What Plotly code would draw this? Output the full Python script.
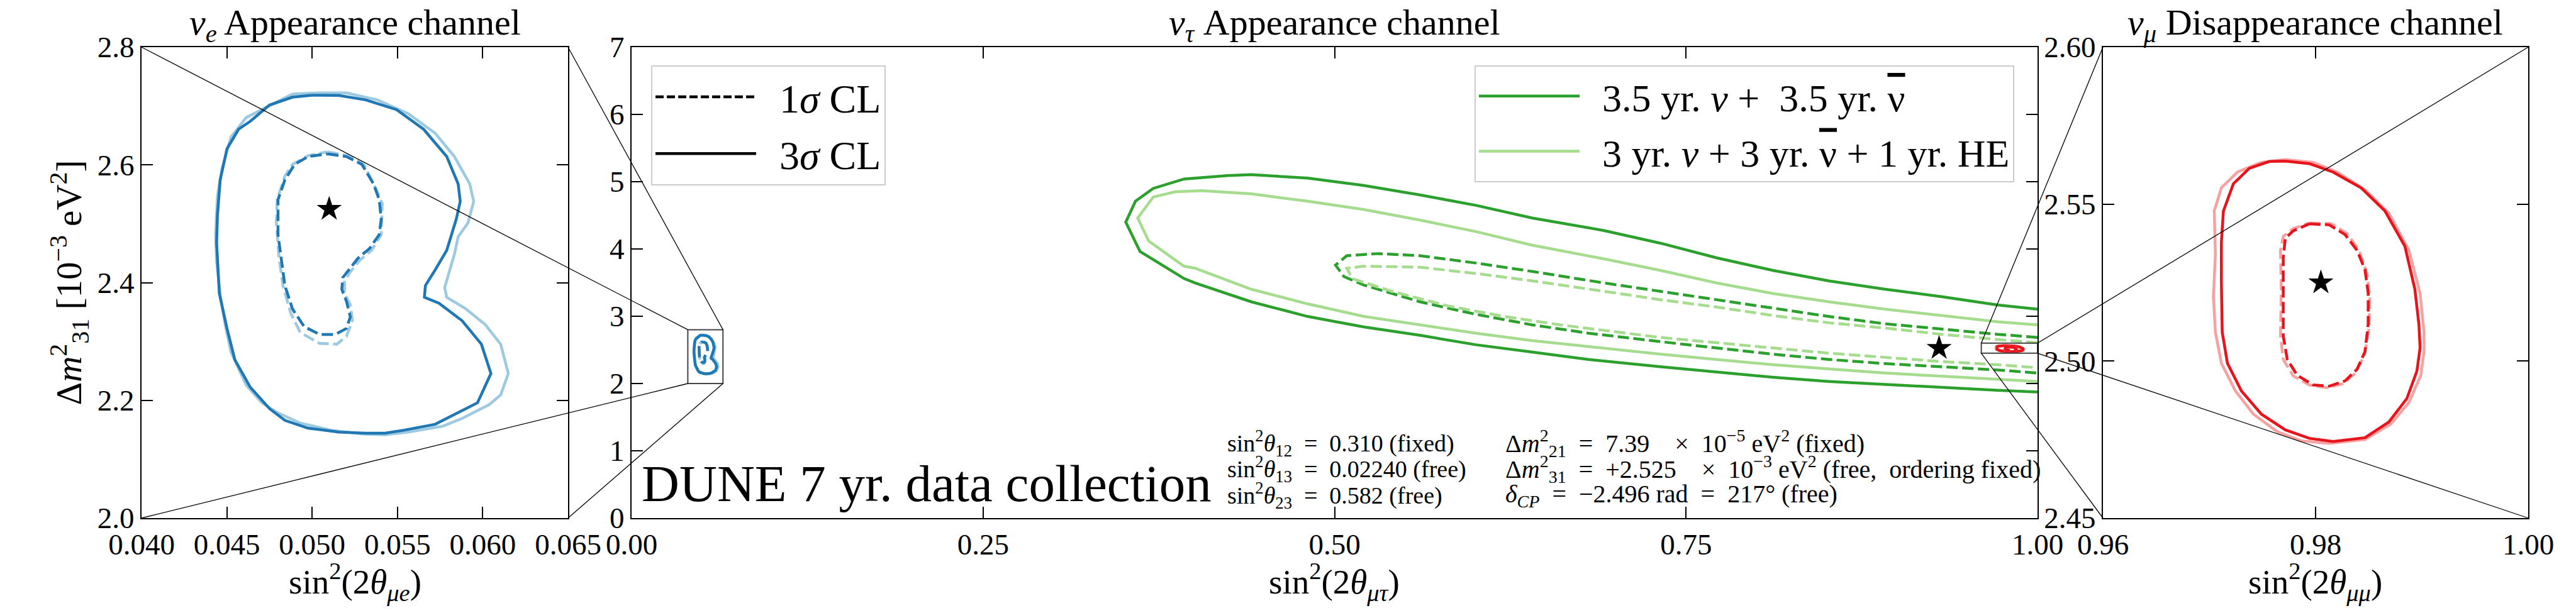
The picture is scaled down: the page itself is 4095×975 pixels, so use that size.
import plotly.graph_objects as go

# ---------------- data ----------------
# nu_e appearance (sin^2 2theta_mue, dm31^2 [1e-3 eV^2])
nue_3s_dark_x = [0.04998, 0.05156, 0.05314, 0.05495, 0.05653, 0.05789, 0.05856, 0.05868, 0.05845, 0.05789, 0.05721, 0.05664, 0.05658, 0.05743, 0.05879, 0.05992, 0.06048, 0.05969, 0.05834, 0.05721, 0.05540, 0.05427, 0.05314, 0.05156, 0.04976, 0.04840, 0.04750, 0.04637, 0.04547, 0.04501, 0.04456, 0.04440, 0.04445, 0.04461, 0.04501, 0.04569, 0.04637, 0.04750, 0.04885]
nue_3s_dark_y = [2.7183, 2.7180, 2.7104, 2.6938, 2.6606, 2.6141, 2.5676, 2.5378, 2.5079, 2.4548, 2.4216, 2.3950, 2.3751, 2.3651, 2.3353, 2.2954, 2.2456, 2.1958, 2.1759, 2.1593, 2.1494, 2.1441, 2.1441, 2.1461, 2.1527, 2.1660, 2.1859, 2.2224, 2.2689, 2.3220, 2.3817, 2.4681, 2.5145, 2.5743, 2.6274, 2.6606, 2.6739, 2.7017, 2.7150]
nue_3s_light_x = [0.04885, 0.05043, 0.05201, 0.05382, 0.05563, 0.05721, 0.05834, 0.05924, 0.05947, 0.05913, 0.05856, 0.05834, 0.05800, 0.05777, 0.05789, 0.05902, 0.06015, 0.06105, 0.06150, 0.06105, 0.06037, 0.05879, 0.05766, 0.05563, 0.05427, 0.05292, 0.05111, 0.04930, 0.04795, 0.04705, 0.04614, 0.04524, 0.04490, 0.04463, 0.04440, 0.04434, 0.04445, 0.04472, 0.04524, 0.04614, 0.04727]
nue_3s_light_y = [2.7203, 2.7223, 2.7223, 2.7104, 2.6871, 2.6539, 2.6141, 2.5676, 2.5378, 2.5012, 2.4780, 2.4481, 2.4149, 2.3917, 2.3751, 2.3552, 2.3286, 2.2954, 2.2456, 2.2091, 2.1925, 2.1693, 2.1560, 2.1461, 2.1414, 2.1428, 2.1494, 2.1613, 2.1793, 2.1959, 2.2257, 2.2822, 2.3286, 2.3751, 2.4349, 2.4813, 2.5477, 2.5942, 2.6473, 2.6805, 2.6971]
nue_1s_dark_x = [0.05089, 0.05201, 0.05292, 0.05360, 0.05393, 0.05405, 0.05393, 0.05337, 0.05269, 0.05213, 0.05179, 0.05174, 0.05201, 0.05224, 0.05201, 0.05134, 0.05043, 0.04953, 0.04885, 0.04840, 0.04818, 0.04800, 0.04800, 0.04840, 0.04897, 0.04976]
nue_1s_dark_y = [2.6188, 2.6141, 2.6008, 2.5676, 2.5411, 2.5079, 2.4813, 2.4581, 2.4415, 2.4216, 2.4083, 2.3884, 2.3685, 2.3419, 2.3220, 2.3120, 2.3120, 2.3253, 2.3552, 2.3950, 2.4415, 2.4813, 2.5411, 2.5743, 2.6008, 2.6141]
nue_1s_light_x = [0.05089, 0.05213, 0.05303, 0.05371, 0.05411, 0.05405, 0.05348, 0.05280, 0.05224, 0.05190, 0.05190, 0.05224, 0.05236, 0.05201, 0.05145, 0.05043, 0.04930, 0.04874, 0.04829, 0.04806, 0.04790, 0.04795, 0.04840, 0.04885, 0.04976]
nue_1s_light_y = [2.6221, 2.6155, 2.6008, 2.5610, 2.5344, 2.4813, 2.4548, 2.4382, 2.4183, 2.4017, 2.3818, 2.3619, 2.3353, 2.3087, 2.2954, 2.2968, 2.3154, 2.3486, 2.3950, 2.4415, 2.5012, 2.5411, 2.5809, 2.6008, 2.6155]

# nu_mu disappearance (sin^2 2theta_mumu, dm31^2)
numu_3s_dark_x = [0.97715, 0.97940, 0.98165, 0.98428, 0.98653, 0.98840, 0.98934, 0.98972, 0.98983, 0.98953, 0.98859, 0.98690, 0.98465, 0.98165, 0.97940, 0.97715, 0.97490, 0.97302, 0.97171, 0.97122, 0.97114, 0.97114, 0.97133, 0.97227, 0.97377, 0.97565]
numu_3s_dark_y = [2.5637, 2.5629, 2.5602, 2.5552, 2.5478, 2.5366, 2.5229, 2.5117, 2.5042, 2.4968, 2.4881, 2.4806, 2.4756, 2.4744, 2.4754, 2.4781, 2.4831, 2.4905, 2.4993, 2.5092, 2.5254, 2.5378, 2.5478, 2.5565, 2.5614, 2.5636]
numu_3s_light_x = [0.97715, 0.97977, 0.98203, 0.98465, 0.98690, 0.98878, 0.98983, 0.99020, 0.99020, 0.98990, 0.98878, 0.98709, 0.98465, 0.98128, 0.97865, 0.97640, 0.97415, 0.97246, 0.97114, 0.97058, 0.97039, 0.97058, 0.97047, 0.97114, 0.97265, 0.97490]
numu_3s_light_y = [2.5642, 2.5633, 2.5602, 2.5546, 2.5471, 2.5353, 2.5216, 2.5092, 2.5030, 2.4955, 2.4868, 2.4800, 2.4750, 2.4738, 2.4746, 2.4775, 2.4831, 2.4905, 2.4993, 2.5092, 2.5204, 2.5341, 2.5478, 2.5552, 2.5602, 2.5633]
numu_1s_dark_x = [0.97940, 0.98128, 0.98278, 0.98390, 0.98465, 0.98495, 0.98495, 0.98465, 0.98390, 0.98278, 0.98128, 0.97977, 0.97827, 0.97734, 0.97696, 0.97696, 0.97696, 0.97715, 0.97790]
numu_1s_dark_y = [2.5437, 2.5434, 2.5403, 2.5353, 2.5291, 2.5216, 2.5117, 2.5030, 2.4974, 2.4937, 2.4920, 2.4924, 2.4955, 2.5005, 2.5080, 2.5229, 2.5328, 2.5391, 2.5415]
numu_1s_light_x = [0.97940, 0.98147, 0.98297, 0.98409, 0.98484, 0.98510, 0.98503, 0.98458, 0.98372, 0.98259, 0.98109, 0.97940, 0.97790, 0.97696, 0.97670, 0.97677, 0.97670, 0.97696, 0.97790]
numu_1s_light_y = [2.5440, 2.5438, 2.5406, 2.5353, 2.5279, 2.5204, 2.5104, 2.5017, 2.4961, 2.4928, 2.4915, 2.4924, 2.4953, 2.5005, 2.5080, 2.5229, 2.5353, 2.5397, 2.5422]

# nu_tau appearance (sin^2 2theta_mutau, dm31^2), open curves running past x = 1
nut_3s_dark_x = [1.0, 0.9714, 0.9314, 0.8915, 0.8515, 0.8116, 0.7716, 0.7316, 0.6917, 0.6406, 0.6006, 0.5607, 0.5208, 0.4808, 0.4407, 0.424, 0.393, 0.371, 0.3584, 0.3515, 0.3616, 0.393, 0.4009, 0.4407, 0.4808, 0.5208, 0.5607, 0.6006, 0.6406, 0.6806, 0.7316, 0.7716, 0.8116, 0.8515, 0.8915, 0.9314, 0.9714, 1.0]
nut_3s_dark_y = [3.106, 3.168, 3.293, 3.402, 3.526, 3.682, 3.869, 4.087, 4.274, 4.461, 4.648, 4.804, 4.944, 5.053, 5.106, 5.09, 5.04, 4.90, 4.71, 4.399, 3.963, 3.56, 3.495, 3.215, 2.997, 2.841, 2.717, 2.576, 2.467, 2.358, 2.249, 2.171, 2.093, 2.031, 1.984, 1.938, 1.900, 1.875]
nut_3s_light_x = [1.0, 0.9714, 0.9314, 0.8915, 0.8515, 0.8116, 0.7716, 0.7316, 0.6917, 0.6406, 0.6006, 0.5607, 0.5208, 0.4808, 0.4407, 0.4054, 0.3866, 0.371, 0.360, 0.3678, 0.3928, 0.4009, 0.4407, 0.4808, 0.5208, 0.5607, 0.6006, 0.6406, 0.6806, 0.7316, 0.7716, 0.8116, 0.8515, 0.8915, 0.9314, 0.9714, 1.0]
nut_3s_light_y = [2.872, 2.919, 3.012, 3.106, 3.215, 3.339, 3.495, 3.682, 3.853, 4.056, 4.258, 4.430, 4.586, 4.710, 4.820, 4.866, 4.850, 4.772, 4.461, 4.118, 3.745, 3.713, 3.402, 3.184, 2.997, 2.872, 2.748, 2.638, 2.545, 2.436, 2.358, 2.280, 2.218, 2.156, 2.109, 2.062, 2.031]
nut_1s_dark_x = [1.0, 0.9714, 0.9314, 0.8915, 0.8515, 0.8116, 0.7716, 0.7316, 0.6917, 0.6406, 0.6006, 0.5607, 0.5307, 0.5087, 0.5007, 0.5067, 0.5208, 0.5607, 0.6006, 0.6406, 0.6806, 0.7316, 0.7716, 0.8116, 0.8515, 0.8915, 0.9314, 0.9714, 1.0]
nut_1s_dark_y = [2.685, 2.732, 2.810, 2.888, 2.997, 3.121, 3.246, 3.371, 3.495, 3.666, 3.791, 3.900, 3.931, 3.900, 3.760, 3.589, 3.464, 3.215, 3.028, 2.872, 2.748, 2.623, 2.530, 2.436, 2.358, 2.296, 2.249, 2.202, 2.156]
nut_1s_light_x = [1.0, 0.9714, 0.9314, 0.8915, 0.8515, 0.8116, 0.7716, 0.7316, 0.6917, 0.6406, 0.6006, 0.5607, 0.5208, 0.5087, 0.5128, 0.5407, 0.5807, 0.6206, 0.6605, 0.7316, 0.7716, 0.8116, 0.8515, 0.8915, 0.9314, 0.9714, 1.0]
nut_1s_light_y = [2.607, 2.654, 2.732, 2.825, 2.903, 3.012, 3.137, 3.246, 3.371, 3.526, 3.636, 3.729, 3.744, 3.713, 3.558, 3.371, 3.153, 2.997, 2.872, 2.685, 2.607, 2.530, 2.451, 2.389, 2.327, 2.280, 2.234]

# best-fit points
star_nue = (0.0510, 2.525)
star_nut = (0.930, 2.525)
star_numu = (0.9805, 2.525)

# axis ranges and ticks
nue_xrange, nue_yrange = [0.040, 0.065], [2.0, 2.8]
nut_xrange, nut_yrange = [0.0, 1.0], [0.0, 7.0]
numu_xrange, numu_yrange = [0.96, 1.00], [2.45, 2.60]
nue_xticks = [0.040, 0.045, 0.050, 0.055, 0.060, 0.065]
nue_xticktext = ["0.040", "0.045", "0.050", "0.055", "0.060", "0.065"]
nue_yticks = [2.0, 2.2, 2.4, 2.6, 2.8]
nue_yticktext = ["2.0", "2.2", "2.4", "2.6", "2.8"]
nut_xticks = [0.0, 0.25, 0.5, 0.75, 1.0]
nut_xticktext = ["0.00", "0.25", "0.50", "0.75", "1.00"]
nut_yticks = [0, 1, 2, 3, 4, 5, 6, 7]
nut_yticktext = ["0", "1", "2", "3", "4", "5", "6", "7"]
numu_xticks = [0.96, 0.98, 1.00]
numu_xticktext = ["0.96", "0.98", "1.00"]
numu_yticks = [2.45, 2.50, 2.55, 2.60]
numu_yticktext = ["2.45", "2.50", "2.55", "2.60"]

NUBAR = '<span style="text-decoration:overline">ν</span>'
legend_cl_labels = ["\u20021<i>σ</i> CL", "\u20023<i>σ</i> CL"]
legend_run_labels = ["\u20023.5 yr. <i>ν</i> +  3.5 yr. " + NUBAR,
                     "\u20023 yr. <i>ν</i> + 3 yr. " + NUBAR + " + 1 yr. HE"]

# ---------------- style ----------------
FONT = "Liberation Serif"
BLUE_D, BLUE_L = "#1f77b4", "#9ecae1"
GREEN_D, GREEN_L = "#2ca02c", "#a6dc8e"
RED_D, RED_L = "#e8141c", "#f7a1a1"
LW = 4.5
DASH = "18px,7px"
EN = "\u2002"
EM = "\u2003"

W, H = 4095, 975
dom_left = [225 / W, 903 / W]
dom_mid = [1004 / W, 3239 / W]
dom_right = [3343 / W, 4019 / W]
dom_y = [151 / H, 900 / H]


def closed(v):
    return list(v) + [v[0]]


fig = go.Figure()


def add_curve(x, y, color, dash, xa, ya, close=True, name=None, showlegend=False, legend="legend", group=None):
    xs = closed(x) if close else list(x)
    ys = closed(y) if close else list(y)
    fig.add_trace(go.Scatter(x=xs, y=ys, mode="lines", xaxis=xa, yaxis=ya,
                             line=dict(color=color, width=LW, dash=dash),
                             name=name, showlegend=showlegend, legend=legend,
                             legendgroup=group, hoverinfo="skip"))


def add_star(pt, xa, ya):
    fig.add_trace(go.Scatter(x=[pt[0]], y=[pt[1]], mode="markers", xaxis=xa, yaxis=ya,
                             marker=dict(symbol="star", size=30, color="black"),
                             showlegend=False, hoverinfo="skip"))


def blue_set(xa, ya):
    add_curve(nue_3s_light_x, nue_3s_light_y, BLUE_L, "solid", xa, ya)
    add_curve(nue_3s_dark_x, nue_3s_dark_y, BLUE_D, "solid", xa, ya)
    add_curve(nue_1s_light_x, nue_1s_light_y, BLUE_L, DASH, xa, ya)
    add_curve(nue_1s_dark_x, nue_1s_dark_y, BLUE_D, DASH, xa, ya)


def red_set(xa, ya):
    add_curve(numu_3s_light_x, numu_3s_light_y, RED_L, "solid", xa, ya)
    add_curve(numu_3s_dark_x, numu_3s_dark_y, RED_D, "solid", xa, ya)
    add_curve(numu_1s_light_x, numu_1s_light_y, RED_L, DASH, xa, ya)
    add_curve(numu_1s_dark_x, numu_1s_dark_y, RED_D, DASH, xa, ya)


# left panel
blue_set("x", "y")
add_star(star_nue, "x", "y")

# middle panel
add_curve(nut_3s_dark_x, nut_3s_dark_y, GREEN_D, "solid", "x2", "y2", close=False,
          name=legend_run_labels[0], showlegend=True, legend="legend2", group="g1")
add_curve(nut_3s_light_x, nut_3s_light_y, GREEN_L, "solid", "x2", "y2", close=False,
          name=legend_run_labels[1], showlegend=True, legend="legend2", group="g2")
add_curve(nut_1s_dark_x, nut_1s_dark_y, GREEN_D, DASH, "x2", "y2", close=False)
add_curve(nut_1s_light_x, nut_1s_light_y, GREEN_L, DASH, "x2", "y2", close=False)
blue_set("x2", "y2")
red_set("x2", "y2")
add_star(star_nut, "x2", "y2")

# right panel
red_set("x3", "y3")
add_star(star_numu, "x3", "y3")

# CL legend (black proxies)
fig.add_trace(go.Scatter(x=[None], y=[None], mode="lines", xaxis="x2", yaxis="y2",
                         line=dict(color="black", width=LW, dash="13px,5px"),
                         name=legend_cl_labels[0], legend="legend", legendgroup="c1"))
fig.add_trace(go.Scatter(x=[None], y=[None], mode="lines", xaxis="x2", yaxis="y2",
                         line=dict(color="black", width=LW),
                         name=legend_cl_labels[1], legend="legend", legendgroup="c2"))


def axis(dom, rng, tv, tt, anchor):
    return dict(domain=dom, range=rng, tickvals=tv, ticktext=tt, anchor=anchor,
                showline=True, linecolor="black", linewidth=2, mirror="ticks",
                ticks="inside", ticklen=18, tickwidth=2, tickcolor="black",
                showgrid=False, zeroline=False, automargin=False,
                tickfont=dict(family=FONT, size=47, color="black"))


LEG = dict(yanchor="top", xanchor="left", bgcolor="rgba(255,255,255,0.85)",
           bordercolor="#cccccc", borderwidth=2, itemwidth=160,
           tracegroupgap=4, traceorder="grouped")
fig.update_layout(
    width=W, height=H, margin=dict(l=0, r=0, t=0, b=0, pad=0),
    paper_bgcolor="white", plot_bgcolor="white",
    font=dict(family=FONT, color="black"),
    xaxis=axis(dom_left, nue_xrange, nue_xticks, nue_xticktext, "y"),
    yaxis=axis(dom_y, nue_yrange, nue_yticks, nue_yticktext, "x"),
    xaxis2=axis(dom_mid, nut_xrange, nut_xticks, nut_xticktext, "y2"),
    yaxis2=axis(dom_y, nut_yrange, nut_yticks, nut_yticktext, "x2"),
    xaxis3=axis(dom_right, numu_xrange, numu_xticks, numu_xticktext, "y3"),
    yaxis3=axis(dom_y, numu_yrange, numu_yticks, numu_yticktext, "x3"),
    legend=dict(x=1035 / W, y=1 - 104 / H, font=dict(family=FONT, size=64, color="black"), **LEG),
    legend2=dict(x=2344 / W, y=1 - 104 / H, font=dict(family=FONT, size=62, color="black"), **LEG),
)


# ---- inset boxes and connectors ----
def to_paper(v, rng, dom):
    return dom[0] + (v - rng[0]) / (rng[1] - rng[0]) * (dom[1] - dom[0])


shapes = []
for xr, yr, pdom in [(nue_xrange, nue_yrange, dom_left), (numu_xrange, numu_yrange, dom_right)]:
    shapes.append(dict(type="rect", xref="x2", yref="y2", x0=xr[0], x1=xr[1], y0=yr[0], y1=yr[1],
                       line=dict(color="#444444", width=2), layer="above"))
    for i in (0, 1):
        for j in (0, 1):
            shapes.append(dict(type="line", xref="paper", yref="paper",
                               x0=pdom[i], y0=dom_y[j],
                               x1=to_paper(xr[i], nut_xrange, dom_mid),
                               y1=to_paper(yr[j], nut_yrange, dom_y),
                               line=dict(color="black", width=1.3), layer="above"))
fig.update_layout(shapes=shapes)

# ---- text ----
ann = []
for dom, txt in [(dom_left, "<i>ν<sub>e</sub></i> Appearance channel"),
                 (dom_mid, "<i>ν<sub>τ</sub></i> Appearance channel"),
                 (dom_right, "<i>ν<sub>μ</sub></i> Disappearance channel")]:
    ann.append(dict(x=(dom[0] + dom[1]) / 2, y=1 - 40 / H, xref="paper", yref="paper",
                    text=txt, showarrow=False, xanchor="center", yanchor="middle",
                    font=dict(family=FONT, size=58, color="black")))
for dom, txt in [(dom_left, "sin<sup>2</sup>(2<i>θ<sub>μe</sub></i>)"),
                 (dom_mid, "sin<sup>2</sup>(2<i>θ<sub>μτ</sub></i>)"),
                 (dom_right, "sin<sup>2</sup>(2<i>θ<sub>μμ</sub></i>)")]:
    ann.append(dict(x=(dom[0] + dom[1]) / 2, y=1 - 925 / H, xref="paper", yref="paper",
                    text=txt, showarrow=False, xanchor="center", yanchor="middle",
                    font=dict(family=FONT, size=55, color="black")))
ann.append(dict(x=110 / W, y=(dom_y[0] + dom_y[1]) / 2, xref="paper", yref="paper", textangle=-90,
                text="Δ<i>m</i><sup>2</sup><sub>31</sub> [10<sup>−3</sup> eV<sup>2</sup>]",
                showarrow=False, xanchor="center", yanchor="middle",
                font=dict(family=FONT, size=57, color="black")))
ann.append(dict(x=1018 / W, y=1 - 769 / H, xref="paper", yref="paper", text="DUNE 7 yr. data collection",
                showarrow=False, xanchor="left", yanchor="middle",
                font=dict(family=FONT, size=83, color="black")))
param_left = ["sin<sup>2</sup><i>θ</i><sub>12</sub>" + EN + "=" + EN + "0.310 (fixed)",
              "sin<sup>2</sup><i>θ</i><sub>13</sub>" + EN + "=" + EN + "0.02240 (free)",
              "sin<sup>2</sup><i>θ</i><sub>23</sub>" + EN + "=" + EN + "0.582 (free)"]
param_right = ["Δ<i>m</i><sup>2</sup><sub>21</sub>" + EN + "=" + EN + "7.39" + EM + "×" + EN + "10<sup>−5</sup> eV<sup>2</sup> (fixed)",
               "Δ<i>m</i><sup>2</sup><sub>31</sub>" + EN + "=" + EN + "+2.525" + EM + "×" + EN + "10<sup>−3</sup> eV<sup>2</sup> (free,  ordering fixed)",
               "<i>δ<sub>CP</sub></i>" + EN + "=" + EN + "−2.496 rad" + EN + "=" + EN + "217° (free)"]
for k, yc in enumerate([705, 746, 788]):
    ann.append(dict(x=1949 / W, y=1 - yc / H, xref="paper", yref="paper", text=param_left[k],
                    showarrow=False, xanchor="left", yanchor="middle",
                    font=dict(family=FONT, size=38, color="black")))
    ann.append(dict(x=2391 / W, y=1 - yc / H, xref="paper", yref="paper", text=param_right[k],
                    showarrow=False, xanchor="left", yanchor="middle",
                    font=dict(family=FONT, size=40, color="black")))
fig.update_layout(annotations=ann)

fig.write_html("out.html")
